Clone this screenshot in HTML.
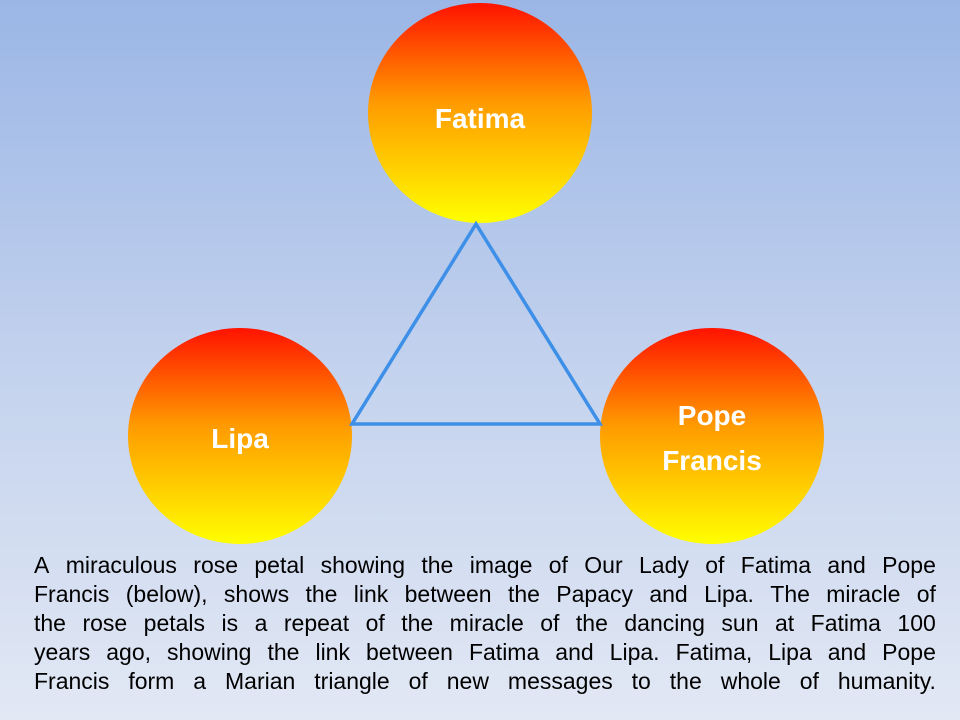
<!DOCTYPE html>
<html><head><meta charset="utf-8"><style>
html,body{margin:0;padding:0}
body{width:960px;height:720px;overflow:hidden;background:linear-gradient(#9bb6e6,#c6d4ee 55%,#e2e8f4);position:relative;font-family:"Liberation Sans",sans-serif}
svg{position:absolute;left:0;top:0}
.txt{position:absolute;left:34px;top:551px;width:902px;font-size:23px;color:#000;line-height:29px}
.txt div{white-space:nowrap;display:flex;justify-content:space-between}
</style></head><body>
<svg width="960" height="720">
<defs><linearGradient id="g" x1="0" y1="0" x2="0" y2="1">
<stop offset="0" stop-color="#ff1200"/><stop offset="0.45" stop-color="#ff9a00"/><stop offset="0.75" stop-color="#ffd000"/><stop offset="1" stop-color="#ffff00"/></linearGradient></defs>
<ellipse cx="480" cy="113" rx="112" ry="110" fill="url(#g)"/>
<ellipse cx="240" cy="436" rx="112" ry="108" fill="url(#g)"/>
<ellipse cx="712" cy="436" rx="112" ry="108" fill="url(#g)"/>
<polygon points="476,224 352,424 600,424" fill="none" stroke="#3d8fe8" stroke-width="3.5"/>
<g fill="#fff" font-family="Liberation Sans,sans-serif" font-weight="bold" font-size="28" text-anchor="middle">
<text x="480" y="128">Fatima</text>
<text x="240" y="448">Lipa</text>
<text x="712" y="425">Pope</text>
<text x="712" y="470">Francis</text>
</g>
</svg>
<div class="txt">
<div><span>A</span><span>miraculous</span><span>rose</span><span>petal</span><span>showing</span><span>the</span><span>image</span><span>of</span><span>Our</span><span>Lady</span><span>of</span><span>Fatima</span><span>and</span><span>Pope</span></div>
<div><span>Francis</span><span>(below),</span><span>shows</span><span>the</span><span>link</span><span>between</span><span>the</span><span>Papacy</span><span>and</span><span>Lipa.</span><span>The</span><span>miracle</span><span>of</span></div>
<div><span>the</span><span>rose</span><span>petals</span><span>is</span><span>a</span><span>repeat</span><span>of</span><span>the</span><span>miracle</span><span>of</span><span>the</span><span>dancing</span><span>sun</span><span>at</span><span>Fatima</span><span>100</span></div>
<div><span>years</span><span>ago,</span><span>showing</span><span>the</span><span>link</span><span>between</span><span>Fatima</span><span>and</span><span>Lipa.</span><span>Fatima,</span><span>Lipa</span><span>and</span><span>Pope</span></div>
<div><span>Francis</span><span>form</span><span>a</span><span>Marian</span><span>triangle</span><span>of</span><span>new</span><span>messages</span><span>to</span><span>the</span><span>whole</span><span>of</span><span>humanity.</span></div>
</div>
</body></html>
